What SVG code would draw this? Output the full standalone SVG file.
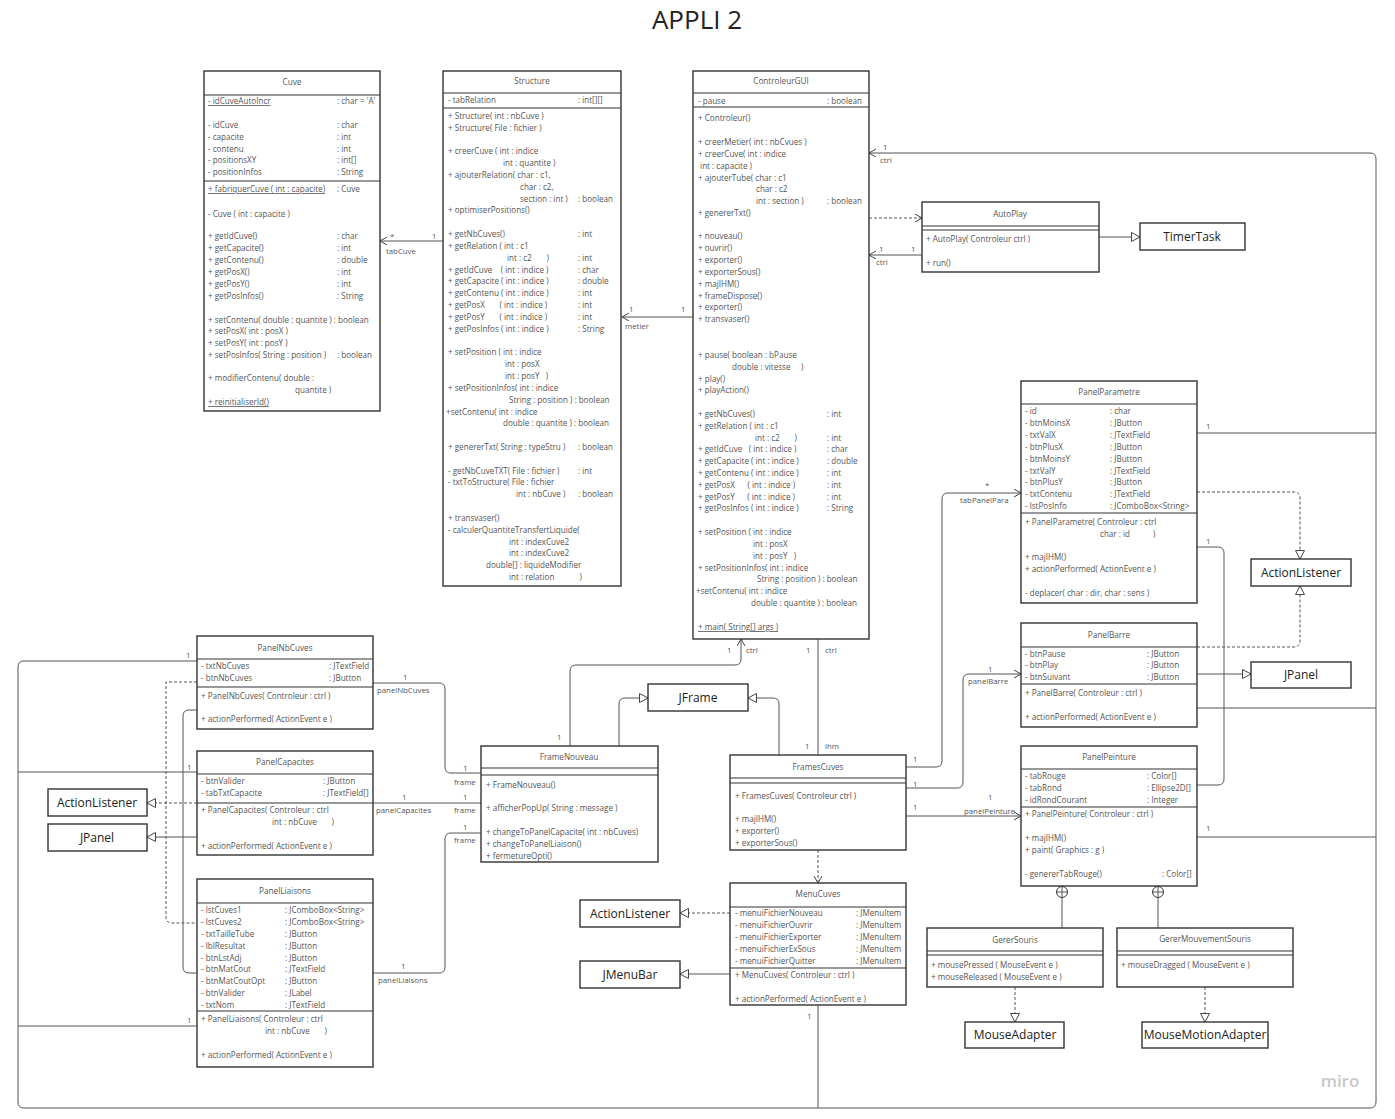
<svg xmlns="http://www.w3.org/2000/svg" width="1395" height="1119" viewBox="0 0 1395 1119" xml:space="preserve">
<style>
text{font-family:"Open Sans","Noto Sans","Liberation Sans",sans-serif;white-space:pre;}
.bx{fill:#fff;stroke:#333;stroke-width:1.4;}
.dv{stroke:#333;stroke-width:1.2;fill:none;}
.t{font-size:8.1px;fill:#555;}
.u{text-decoration:underline;}
.h{font-size:8.2px;fill:#555;text-anchor:middle;}
.b{font-size:12px;fill:#222;text-anchor:middle;}
.l{font-size:7.8px;fill:#555;}
.c{fill:none;stroke:#555;stroke-width:1;}
.d{fill:none;stroke:#555;stroke-width:1;stroke-dasharray:3,2;}
.oa{marker-end:url(#open);}
.ta{marker-end:url(#tri);}
</style>
<defs>
<marker id="open" markerUnits="userSpaceOnUse" markerWidth="10" markerHeight="10" refX="7" refY="4" orient="auto"><path d="M0,0 L7,4 L0,8" fill="none" stroke="#444" stroke-width="1"/></marker>
<marker id="tri" markerUnits="userSpaceOnUse" markerWidth="12" markerHeight="12" refX="9" refY="5" orient="auto"><path d="M0.5,0.5 L9,5 L0.5,9.5 Z" fill="#fff" stroke="#444" stroke-width="1"/></marker>
</defs>
<rect width="1395" height="1119" fill="#fff"/>
<text x="697" y="29" text-anchor="middle" style="font-size:26px;fill:#222">APPLI 2</text>

<g id="connectors">
<path class="c oa" d="M197,661 H24 Q18,661 18,667 V1102 Q18,1108 24,1108 H1370 Q1376,1108 1376,1102 V159 Q1376,153 1370,153 H869"/>
<path class="c" d="M197,772 H18"/>
<path class="c" d="M197,1026 H18"/>
<path class="c" d="M818,1005 V1108"/>
<path class="c" d="M1197,433 H1376"/>
<path class="c" d="M1197,708 H1376"/>
<path class="c" d="M1197,837 H1376"/>
<text class="l" x="883" y="150">1</text><text class="l" x="880" y="163">ctrl</text>
<text class="l" x="186" y="658">1</text>
<text class="l" x="187" y="770">1</text>
<text class="l" x="187" y="1023">1</text>
<text class="l" x="807" y="1019">1</text>
<text class="l" x="1206" y="429">1</text>
<text class="l" x="1206" y="831">1</text>
<path class="c oa" d="M443,241 H380"/>
<text class="l" x="390" y="239">*</text><text class="l" x="386" y="254">tabCuve</text><text class="l" x="432" y="239">1</text>
<path class="c oa" d="M693,317 H622"/>
<text class="l" x="629" y="312">1</text><text class="l" x="625" y="329">metier</text><text class="l" x="681" y="312">1</text>
<path class="d oa" d="M869,218 H922"/>
<path class="c oa" d="M922,255 H869"/>
<text class="l" x="879" y="252">1</text><text class="l" x="911" y="252">1</text><text class="l" x="876" y="265">ctrl</text>
<path class="c ta" d="M1099,237 H1140"/>
<path class="c oa" d="M570,746 V671 Q570,665 576,665 H735 Q741,665 741,659 V639"/>
<text class="l" x="557" y="740">1</text><text class="l" x="727" y="653">1</text><text class="l" x="746" y="653">ctrl</text>
<path class="c" d="M818,639 V755"/>
<text class="l" x="806" y="653">1</text><text class="l" x="825" y="653">ctrl</text>
<text class="l" x="805" y="749">1</text><text class="l" x="825" y="749">ihm</text>
<path class="c ta" d="M619,746 V704 Q619,698 625,698 H648"/>
<path class="c ta" d="M779,755 V704 Q779,698 773,698 H748"/>
<path class="c" d="M373,683 H439 Q445,683 445,689 V767 Q445,773 451,773 H481"/>
<text class="l" x="403" y="680">1</text><text class="l" x="377" y="693">panelNbCuves</text>
<text class="l" x="463" y="771">1</text><text class="l" x="454" y="785">frame</text>
<path class="c" d="M373,803 H481"/>
<text class="l" x="402" y="800">1</text><text class="l" x="376" y="813">panelCapacites</text>
<text class="l" x="463" y="800">1</text><text class="l" x="454" y="813">frame</text>
<path class="c" d="M373,973 H439 Q445,973 445,967 V839 Q445,833 451,833 H481"/>
<text class="l" x="401" y="969">1</text><text class="l" x="378" y="983">panelLiaisons</text>
<text class="l" x="463" y="830">1</text><text class="l" x="454" y="843">frame</text>
<path class="d" d="M197,682 H166 V917 Q166,923 172,923 H197"/>
<path class="d ta" d="M197,803 H147"/>
<path class="c" d="M197,710 H189 Q183,710 183,716 V967 Q183,973 189,973 H197"/>
<path class="c ta" d="M197,837 H147"/>
<path class="d oa" d="M818,850 V883"/>
<path class="d ta" d="M730,913 H680"/>
<path class="c ta" d="M730,974 H680"/>
<path class="c oa" d="M906,767 H936 Q942,767 942,761 V499 Q942,493 948,493 H1021"/>
<text class="l" x="913" y="762">1</text><text class="l" x="985" y="488">*</text><text class="l" x="960" y="503">tabPanelPara</text>
<path class="c oa" d="M906,788 H957 Q963,788 963,782 V680 Q963,674 969,674 H1021"/>
<text class="l" x="913" y="787">1</text><text class="l" x="988" y="672">1</text><text class="l" x="968" y="684">panelBarre</text>
<path class="c oa" d="M906,816 H1021"/>
<text class="l" x="913" y="810">1</text><text class="l" x="988" y="800">1</text><text class="l" x="964" y="814">panelPeinture</text>
<path class="d ta" d="M1197,492 H1294 Q1300,492 1300,498 V559"/>
<path class="d ta" d="M1197,647 H1294 Q1300,647 1300,641 V586"/>
<path class="c ta" d="M1197,674 H1251"/>
<path class="c" d="M1197,547 H1218 Q1224,547 1224,553 V779 Q1224,785 1218,785 H1197"/>
<text class="l" x="1206" y="544">1</text>
<circle cx="1062" cy="892" r="5.5" fill="#fff" stroke="#333" stroke-width="1"/>
<path class="c" d="M1056.5,892 H1067.5 M1062,886.5 V928"/>
<circle cx="1158" cy="892" r="5.5" fill="#fff" stroke="#333" stroke-width="1"/>
<path class="c" d="M1152.5,892 H1163.5 M1158,886.5 V928"/>
<path class="d ta" d="M1015,987 V1022"/>
<path class="d ta" d="M1205,987 V1022"/>
</g>

<g id="Cuve">
<rect class="bx" x="204" y="71" width="176" height="340"/>
<path class="dv" d="M204,95 H380 M204,181 H380"/>
<text class="h" x="292" y="85">Cuve</text>
<text class="t u" x="208" y="104">- idCuveAutoIncr</text><text class="t" x="337" y="104">: char = 'A'</text>
<text class="t" x="208" y="128">- idCuve</text><text class="t" x="337" y="128">: char</text>
<text class="t" x="208" y="140">- capacite</text><text class="t" x="337" y="140">: int</text>
<text class="t" x="208" y="152">- contenu</text><text class="t" x="337" y="152">: int</text>
<text class="t" x="208" y="163">- positionsXY</text><text class="t" x="337" y="163">: int[]</text>
<text class="t" x="208" y="175">- positionInfos</text><text class="t" x="337" y="175">: String</text>
<text class="t u" x="208" y="192">+ fabriquerCuve ( int : capacite)</text><text class="t" x="337" y="192">: Cuve</text>
<text class="t" x="208" y="217">- Cuve ( int : capacite )</text>
<text class="t" x="208" y="239">+ getIdCuve()</text><text class="t" x="337" y="239">: char</text>
<text class="t" x="208" y="251">+ getCapacite()</text><text class="t" x="337" y="251">: int</text>
<text class="t" x="208" y="263">+ getContenu()</text><text class="t" x="337" y="263">: double</text>
<text class="t" x="208" y="275">+ getPosX()</text><text class="t" x="337" y="275">: int</text>
<text class="t" x="208" y="287">+ getPosY()</text><text class="t" x="337" y="287">: int</text>
<text class="t" x="208" y="299">+ getPosInfos()</text><text class="t" x="337" y="299">: String</text>
<text class="t" x="208" y="323">+ setContenu( double : quantite ) : boolean</text>
<text class="t" x="208" y="334">+ setPosX( int : posX )</text>
<text class="t" x="208" y="346">+ setPosY( int : posY )</text>
<text class="t" x="208" y="358">+ setPosInfos( String : position )</text><text class="t" x="337" y="358">: boolean</text>
<text class="t" x="208" y="381">+ modifierContenu( double :</text>
<text class="t" x="295" y="393">quantite )</text>
<text class="t u" x="208" y="405">+ reinitialiserId()</text>
</g>

<g id="Structure">
<rect class="bx" x="443" y="71" width="178" height="515"/>
<path class="dv" d="M443,93 H621 M443,108 H621"/>
<text class="h" x="532" y="84">Structure</text>
<text class="t" x="448" y="103">- tabRelation</text><text class="t" x="578" y="103">: int[][]</text>
<text class="t" x="448" y="119">+ Structure( int : nbCuve )</text>
<text class="t" x="448" y="131">+ Structure( File : fichier )</text>
<text class="t" x="448" y="154">+ creerCuve ( int : indice</text>
<text class="t" x="503" y="166">int : quantite )</text>
<text class="t" x="448" y="178">+ ajouterRelation( char : c1,</text>
<text class="t" x="520" y="190">char : c2,</text>
<text class="t" x="520" y="202">section : int )</text><text class="t" x="578" y="202">: boolean</text>
<text class="t" x="448" y="213">+ optimiserPositions()</text>
<text class="t" x="448" y="237">+ getNbCuves()</text><text class="t" x="578" y="237">: int</text>
<text class="t" x="448" y="249">+ getRelation ( int : c1</text>
<text class="t" x="507" y="261">int : c2       )</text><text class="t" x="578" y="261">: int</text>
<text class="t" x="448" y="273">+ getIdCuve    ( int : indice )</text><text class="t" x="578" y="273">: char</text>
<text class="t" x="448" y="284">+ getCapacite ( int : indice )</text><text class="t" x="578" y="284">: double</text>
<text class="t" x="448" y="296">+ getContenu ( int : indice )</text><text class="t" x="578" y="296">: int</text>
<text class="t" x="448" y="308">+ getPosX       ( int : indice )</text><text class="t" x="578" y="308">: int</text>
<text class="t" x="448" y="320">+ getPosY       ( int : indice )</text><text class="t" x="578" y="320">: int</text>
<text class="t" x="448" y="332">+ getPosInfos ( int : indice )</text><text class="t" x="578" y="332">: String</text>
<text class="t" x="448" y="355">+ setPosition ( int : indice</text>
<text class="t" x="505" y="367">int : posX</text>
<text class="t" x="505" y="379">int : posY   )</text>
<text class="t" x="448" y="391">+ setPositionInfos( int : indice</text>
<text class="t" x="509" y="403">String : position ) : boolean</text>
<text class="t" x="446" y="415">+setContenu( int : indice</text>
<text class="t" x="503" y="426">double : quantite ) : boolean</text>
<text class="t" x="448" y="450">+ genererTxt( String : typeStru )</text><text class="t" x="578" y="450">: boolean</text>
<text class="t" x="448" y="474">- getNbCuveTXT( File : fichier )</text><text class="t" x="578" y="474">: int</text>
<text class="t" x="448" y="485">- txtToStructure( File : fichier</text>
<text class="t" x="516" y="497">int : nbCuve )</text><text class="t" x="578" y="497">: boolean</text>
<text class="t" x="448" y="521">+ transvaser()</text>
<text class="t" x="448" y="533">- calculerQuantiteTransfertLiquide(</text>
<text class="t" x="509" y="545">int : indexCuve2</text>
<text class="t" x="509" y="556">int : indexCuve2</text>
<text class="t" x="486" y="568">double[] : liquideModifier</text>
<text class="t" x="509" y="580">int : relation            )</text>
</g>

<g id="ControleurGUI">
<rect class="bx" x="693" y="71" width="176" height="568"/>
<path class="dv" d="M693,93 H869 M693,107 H869"/>
<text class="h" x="781" y="84">ControleurGUI</text>
<text class="t" x="698" y="104">- pause</text><text class="t" x="827" y="104">: boolean</text>
<text class="t" x="698" y="121">+ Controleur()</text>
<text class="t" x="698" y="145">+ creerMetier( int : nbCvues )</text>
<text class="t" x="698" y="157">+ creerCuve( int : indice</text>
<text class="t" x="698" y="169"> int : capacite )</text>
<text class="t" x="698" y="181">+ ajouterTube( char : c1</text>
<text class="t" x="756" y="192">char : c2</text>
<text class="t" x="756" y="204">int : section )</text><text class="t" x="827" y="204">: boolean</text>
<text class="t" x="698" y="216">+ genererTxt()</text>
<text class="t" x="698" y="239">+ nouveau()</text>
<text class="t" x="698" y="251">+ ouvrir()</text>
<text class="t" x="698" y="263">+ exporter()</text>
<text class="t" x="698" y="275">+ exporterSous()</text>
<text class="t" x="698" y="287">+ majIHM()</text>
<text class="t" x="698" y="299">+ frameDispose()</text>
<text class="t" x="698" y="310">+ exporter()</text>
<text class="t" x="698" y="322">+ transvaser()</text>
<text class="t" x="698" y="358">+ pause( boolean : bPause</text>
<text class="t" x="732" y="370">double : vitesse     )</text>
<text class="t" x="698" y="382">+ play()</text>
<text class="t" x="698" y="393">+ playAction()</text>
<text class="t" x="698" y="417">+ getNbCuves()</text><text class="t" x="827" y="417">: int</text>
<text class="t" x="698" y="429">+ getRelation ( int : c1</text>
<text class="t" x="755" y="441">int : c2       )</text><text class="t" x="827" y="441">: int</text>
<text class="t" x="698" y="452">+ getIdCuve   ( int : indice )</text><text class="t" x="827" y="452">: char</text>
<text class="t" x="698" y="464">+ getCapacite ( int : indice )</text><text class="t" x="827" y="464">: double</text>
<text class="t" x="698" y="476">+ getContenu ( int : indice )</text><text class="t" x="827" y="476">: int</text>
<text class="t" x="698" y="488">+ getPosX      ( int : indice )</text><text class="t" x="827" y="488">: int</text>
<text class="t" x="698" y="500">+ getPosY      ( int : indice )</text><text class="t" x="827" y="500">: int</text>
<text class="t" x="698" y="511">+ getPosInfos ( int : indice )</text><text class="t" x="827" y="511">: String</text>
<text class="t" x="698" y="535">+ setPosition ( int : indice</text>
<text class="t" x="753" y="547">int : posX</text>
<text class="t" x="753" y="559">int : posY   )</text>
<text class="t" x="698" y="571">+ setPositionInfos( int : indice</text>
<text class="t" x="757" y="582">String : position ) : boolean</text>
<text class="t" x="696" y="594">+setContenu( int : indice</text>
<text class="t" x="751" y="606">double : quantite ) : boolean</text>
<text class="t u" x="698" y="630">+ main( String[] args )</text>
</g>

<g id="AutoPlay">
<rect class="bx" x="922" y="202" width="177" height="70"/>
<path class="dv" d="M922,226 H1099 M922,230 H1099"/>
<text class="h" x="1010" y="217">AutoPlay</text>
<text class="t" x="926" y="242">+ AutoPlay( Controleur ctrl )</text>
<text class="t" x="926" y="266">+ run()</text>
</g>

<g id="TimerTask">
<rect class="bx" x="1140" y="223" width="105" height="27"/>
<text class="b" x="1192" y="241">TimerTask</text>
</g>

<g id="PanelParametre">
<rect class="bx" x="1021" y="381" width="176" height="222"/>
<path class="dv" d="M1021,404 H1197 M1021,513 H1197"/>
<text class="h" x="1109" y="395">PanelParametre</text>
<text class="t" x="1025" y="414">- id</text><text class="t" x="1110" y="414">: char</text>
<text class="t" x="1025" y="426">- btnMoinsX</text><text class="t" x="1110" y="426">: JButton</text>
<text class="t" x="1025" y="438">- txtValX</text><text class="t" x="1110" y="438">: JTextField</text>
<text class="t" x="1025" y="450">- btnPlusX</text><text class="t" x="1110" y="450">: JButton</text>
<text class="t" x="1025" y="462">- btnMoinsY</text><text class="t" x="1110" y="462">: JButton</text>
<text class="t" x="1025" y="474">- txtValY</text><text class="t" x="1110" y="474">: JTextField</text>
<text class="t" x="1025" y="485">- btnPlusY</text><text class="t" x="1110" y="485">: JButton</text>
<text class="t" x="1025" y="497">- txtContenu</text><text class="t" x="1110" y="497">: JTextField</text>
<text class="t" x="1025" y="509">- lstPosInfo</text><text class="t" x="1110" y="509">: JComboBox&lt;String&gt;</text>
<text class="t" x="1025" y="525">+ PanelParametre( Controleur : ctrl</text>
<text class="t" x="1100" y="537">char : id           )</text>
<text class="t" x="1025" y="560">+ majIHM()</text>
<text class="t" x="1025" y="572">+ actionPerformed( ActionEvent e )</text>
<text class="t" x="1025" y="596">- deplacer( char : dir, char : sens )</text>
</g>

<g id="PanelBarre">
<rect class="bx" x="1021" y="623" width="176" height="104"/>
<path class="dv" d="M1021,647 H1197 M1021,684 H1197"/>
<text class="h" x="1109" y="638">PanelBarre</text>
<text class="t" x="1025" y="657">- btnPause</text><text class="t" x="1147" y="657">: JButton</text>
<text class="t" x="1025" y="668">- btnPlay</text><text class="t" x="1147" y="668">: JButton</text>
<text class="t" x="1025" y="680">- btnSuivant</text><text class="t" x="1147" y="680">: JButton</text>
<text class="t" x="1025" y="696">+ PanelBarre( Controleur : ctrl )</text>
<text class="t" x="1025" y="720">+ actionPerformed( ActionEvent e )</text>
</g>

<g id="ActionListenerR">
<rect class="bx" x="1251" y="559" width="100" height="27"/>
<text class="b" x="1301" y="577">ActionListener</text>
</g>
<g id="JPanelR">
<rect class="bx" x="1251" y="662" width="100" height="26"/>
<text class="b" x="1301" y="679">JPanel</text>
</g>

<g id="PanelPeinture">
<rect class="bx" x="1021" y="746" width="176" height="140"/>
<path class="dv" d="M1021,769 H1197 M1021,807 H1197"/>
<text class="h" x="1109" y="760">PanelPeinture</text>
<text class="t" x="1025" y="779">- tabRouge</text><text class="t" x="1147" y="779">: Color[]</text>
<text class="t" x="1025" y="791">- tabRond</text><text class="t" x="1147" y="791">: Ellipse2D[]</text>
<text class="t" x="1025" y="803">- idRondCourant</text><text class="t" x="1147" y="803">: Integer</text>
<text class="t" x="1025" y="817">+ PanelPeinture( Controleur : ctrl )</text>
<text class="t" x="1025" y="841">+ majIHM()</text>
<text class="t" x="1025" y="853">+ paint( Graphics : g )</text>
<text class="t" x="1025" y="877">- genererTabRouge()</text><text class="t" x="1162" y="877">: Color[]</text>
</g>

<g id="GererSouris">
<rect class="bx" x="927" y="928" width="176" height="59"/>
<path class="dv" d="M927,951 H1103 M927,955 H1103"/>
<text class="h" x="1015" y="943">GererSouris</text>
<text class="t" x="931" y="968">+ mousePressed ( MouseEvent e )</text>
<text class="t" x="931" y="980">+ mouseReleased ( MouseEvent e )</text>
</g>

<g id="GererMouvementSouris">
<rect class="bx" x="1117" y="928" width="176" height="59"/>
<path class="dv" d="M1117,951 H1293 M1117,955 H1293"/>
<text class="h" x="1205" y="942">GererMouvementSouris</text>
<text class="t" x="1121" y="968">+ mouseDragged ( MouseEvent e )</text>
</g>

<g id="MouseAdapter">
<rect class="bx" x="965" y="1022" width="99" height="26"/>
<text class="b" x="1015" y="1039">MouseAdapter</text>
</g>
<g id="MouseMotionAdapter">
<rect class="bx" x="1142" y="1022" width="126" height="26"/>
<text class="b" x="1205" y="1039">MouseMotionAdapter</text>
</g>

<g id="PanelNbCuves">
<rect class="bx" x="197" y="636" width="176" height="93"/>
<path class="dv" d="M197,659 H373 M197,687 H373"/>
<text class="h" x="285" y="651">PanelNbCuves</text>
<text class="t" x="201" y="669">- txtNbCuves</text><text class="t" x="329" y="669">: JTextField</text>
<text class="t" x="201" y="681">- btnNbCuves</text><text class="t" x="329" y="681">: JButton</text>
<text class="t" x="201" y="699">+ PanelNbCuves( Controleur : ctrl )</text>
<text class="t" x="201" y="722">+ actionPerformed( ActionEvent e )</text>
</g>

<g id="PanelCapacites">
<rect class="bx" x="197" y="751" width="176" height="104"/>
<path class="dv" d="M197,774 H373 M197,803 H373"/>
<text class="h" x="285" y="765">PanelCapacites</text>
<text class="t" x="201" y="784">- btnValider</text><text class="t" x="323" y="784">: JButton</text>
<text class="t" x="201" y="796">- tabTxtCapacite</text><text class="t" x="323" y="796">: JTextField[]</text>
<text class="t" x="201" y="813">+ PanelCapacites( Controleur : ctrl</text>
<text class="t" x="272" y="825">int : nbCuve       )</text>
<text class="t" x="201" y="849">+ actionPerformed( ActionEvent e )</text>
</g>

<g id="PanelLiaisons">
<rect class="bx" x="197" y="879" width="176" height="188"/>
<path class="dv" d="M197,903 H373 M197,1011 H373"/>
<text class="h" x="285" y="894">PanelLiaisons</text>
<text class="t" x="201" y="913">- lstCuves1</text><text class="t" x="285" y="913">: JComboBox&lt;String&gt;</text>
<text class="t" x="201" y="925">- lstCuves2</text><text class="t" x="285" y="925">: JComboBox&lt;String&gt;</text>
<text class="t" x="201" y="937">- txtTailleTube</text><text class="t" x="285" y="937">: JButton</text>
<text class="t" x="201" y="949">- lblResultat</text><text class="t" x="285" y="949">: JButton</text>
<text class="t" x="201" y="961">- btnLstAdj</text><text class="t" x="285" y="961">: JButton</text>
<text class="t" x="201" y="972">- btnMatCout</text><text class="t" x="285" y="972">: JTextField</text>
<text class="t" x="201" y="984">- btnMatCoutOpt</text><text class="t" x="285" y="984">: JButton</text>
<text class="t" x="201" y="996">- btnValider</text><text class="t" x="285" y="996">: JLabel</text>
<text class="t" x="201" y="1008">- txtNom</text><text class="t" x="285" y="1008">: JTextField</text>
<text class="t" x="201" y="1022">+ PanelLiaisons( Controleur : ctrl</text>
<text class="t" x="265" y="1034">int : nbCuve       )</text>
<text class="t" x="201" y="1058">+ actionPerformed( ActionEvent e )</text>
</g>

<g id="ActionListenerL">
<rect class="bx" x="48" y="789" width="99" height="27"/>
<text class="b" x="97" y="807">ActionListener</text>
</g>
<g id="JPanelL">
<rect class="bx" x="48" y="824" width="99" height="27"/>
<text class="b" x="97" y="842">JPanel</text>
</g>

<g id="FrameNouveau">
<rect class="bx" x="481" y="746" width="177" height="116"/>
<path class="dv" d="M481,768 H658 M481,775 H658"/>
<text class="h" x="569" y="760">FrameNouveau</text>
<text class="t" x="486" y="788">+ FrameNouveau()</text>
<text class="t" x="486" y="811">+ afficherPopUp( String : message )</text>
<text class="t" x="486" y="835">+ changeToPanelCapacite( int : nbCuves)</text>
<text class="t" x="486" y="847">+ changeToPanelLiaison()</text>
<text class="t" x="486" y="859">+ fermetureOpti()</text>
</g>

<g id="JFrame">
<rect class="bx" x="648" y="684" width="100" height="27"/>
<text class="b" x="698" y="702">JFrame</text>
</g>

<g id="FramesCuves">
<rect class="bx" x="730" y="755" width="176" height="95"/>
<path class="dv" d="M730,778 H906 M730,783 H906"/>
<text class="h" x="818" y="770">FramesCuves</text>
<text class="t" x="735" y="799">+ FramesCuves( Controleur ctrl )</text>
<text class="t" x="735" y="822">+ majIHM()</text>
<text class="t" x="735" y="834">+ exporter()</text>
<text class="t" x="735" y="846">+ exporterSous()</text>
</g>

<g id="MenuCuves">
<rect class="bx" x="730" y="883" width="176" height="122"/>
<path class="dv" d="M730,907 H906 M730,968 H906"/>
<text class="h" x="818" y="897">MenuCuves</text>
<text class="t" x="735" y="916">- menuiFichierNouveau</text><text class="t" x="856" y="916">: JMenuItem</text>
<text class="t" x="735" y="928">- menuiFichierOuvrir</text><text class="t" x="856" y="928">: JMenuItem</text>
<text class="t" x="735" y="940">- menuiFichierExporter</text><text class="t" x="856" y="940">: JMenuItem</text>
<text class="t" x="735" y="952">- menuiFichierExSous</text><text class="t" x="856" y="952">: JMenuItem</text>
<text class="t" x="735" y="964">- menuiFichierQuitter</text><text class="t" x="856" y="964">: JMenuItem</text>
<text class="t" x="735" y="978">+ MenuCuves( Controleur : ctrl )</text>
<text class="t" x="735" y="1002">+ actionPerformed( ActionEvent e )</text>
</g>

<g id="ActionListenerM">
<rect class="bx" x="580" y="900" width="100" height="27"/>
<text class="b" x="630" y="918">ActionListener</text>
</g>
<g id="JMenuBar">
<rect class="bx" x="580" y="961" width="100" height="27"/>
<text class="b" x="630" y="979">JMenuBar</text>
</g>

<text x="1340" y="1087" text-anchor="middle" style="font-size:17px;fill:#c8c8c8;font-weight:600">miro</text>
</svg>
